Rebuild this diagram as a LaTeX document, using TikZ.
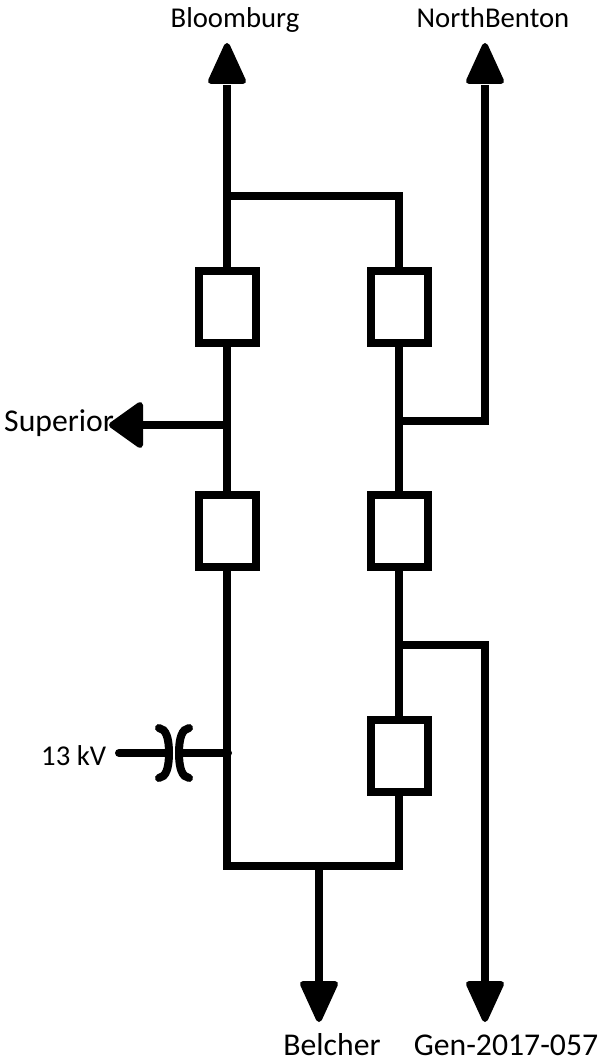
\documentclass[tikz,border=0pt]{standalone}
\usepackage{fontspec}
\setmainfont{Carlito}
\begin{document}
\begin{tikzpicture}[x=1pt,y=-1pt,
 wire/.style={line width=8pt},
 swbox/.style={draw,line width=8pt,minimum width=57pt,minimum height=72pt,fill=white,inner sep=0pt},
 lbl/.style={font=\fontsize{28.7}{32}\selectfont,inner sep=0pt,anchor=base},
 lblbig/.style={font=\fontsize{31.7}{36}\selectfont,inner sep=0pt,anchor=base},
 tip/.style={fill=black,draw=black,line width=6pt,line join=round}]
\useasboundingbox (0,0) rectangle (605,1062);
\node[lbl] (t1) at (235,28) {Bloomburg};
\node[lbl] (t2) at (493,28) {NorthBenton};
\node[lblbig,anchor=base west] (t3) at (4,431) {Superior};
\node[lbl,anchor=base west] (t4) at (41,765) {13 kV};
\node[lblbig] (t5) at (332,1055) {Belcher};
\node[lblbig] (t6) at (506,1055) {Gen-2017-057};
\coordinate (L1) at (227,85);
\coordinate (LT) at (227,196);
\coordinate (RT) at (399,196);
\coordinate (LB) at (227,866);
\coordinate (RB) at (399,866);
\coordinate (SJ) at (227,425);
\coordinate (NJ) at (399,421);
\coordinate (NC) at (485,421);
\coordinate (NE) at (485,85);
\coordinate (GJ) at (399,645);
\coordinate (GC) at (485,645);
\coordinate (GE) at (485,982);
\coordinate (BJ) at (319,866);
\coordinate (BE) at (319,982);
\coordinate (SE) at (142,425);
\coordinate (TJ) at (228,753);
\coordinate (TR) at (181,753);
\coordinate (TL) at (119,753);
\coordinate (TM) at (167,753);
\draw[wire] (L1) -- (LB) -- (RB) -- (RT) -- (LT);
\draw[wire] (SJ) -- (SE);
\draw[wire] (NJ) -- (NC) -- (NE);
\draw[wire] (GJ) -- (GC) -- (GE);
\draw[wire] (BJ) -- (BE);
\node[swbox] (b1) at (227,307) {};
\node[swbox] (b2) at (227,531) {};
\node[swbox] (b3) at (399,307) {};
\node[swbox] (b4) at (399,531) {};
\node[swbox] (b5) at (399,756) {};
\filldraw[tip] (227,46) -- (211,81) -- (243,81) -- cycle;
\filldraw[tip] (485,46) -- (469,81) -- (501,81) -- cycle;
\filldraw[tip] (319,1019) -- (303,984) -- (335,984) -- cycle;
\filldraw[tip] (485,1019) -- (469,984) -- (501,984) -- cycle;
\filldraw[tip] (112,425) -- (140,405) -- (140,445) -- cycle;
\draw[wire,line cap=round] (TJ) -- (TR);
\draw[wire,line cap=round] (TL) -- (TM);
\draw[wire,line cap=round] (159,728) .. controls (166,729) and (169,738) .. (169,753) .. controls (169,768) and (166,777) .. (159,778);
\draw[wire,line cap=round] (189,728) .. controls (182,729) and (179,738) .. (179,753) .. controls (179,768) and (182,777) .. (189,778);
\end{tikzpicture}
\end{document}
